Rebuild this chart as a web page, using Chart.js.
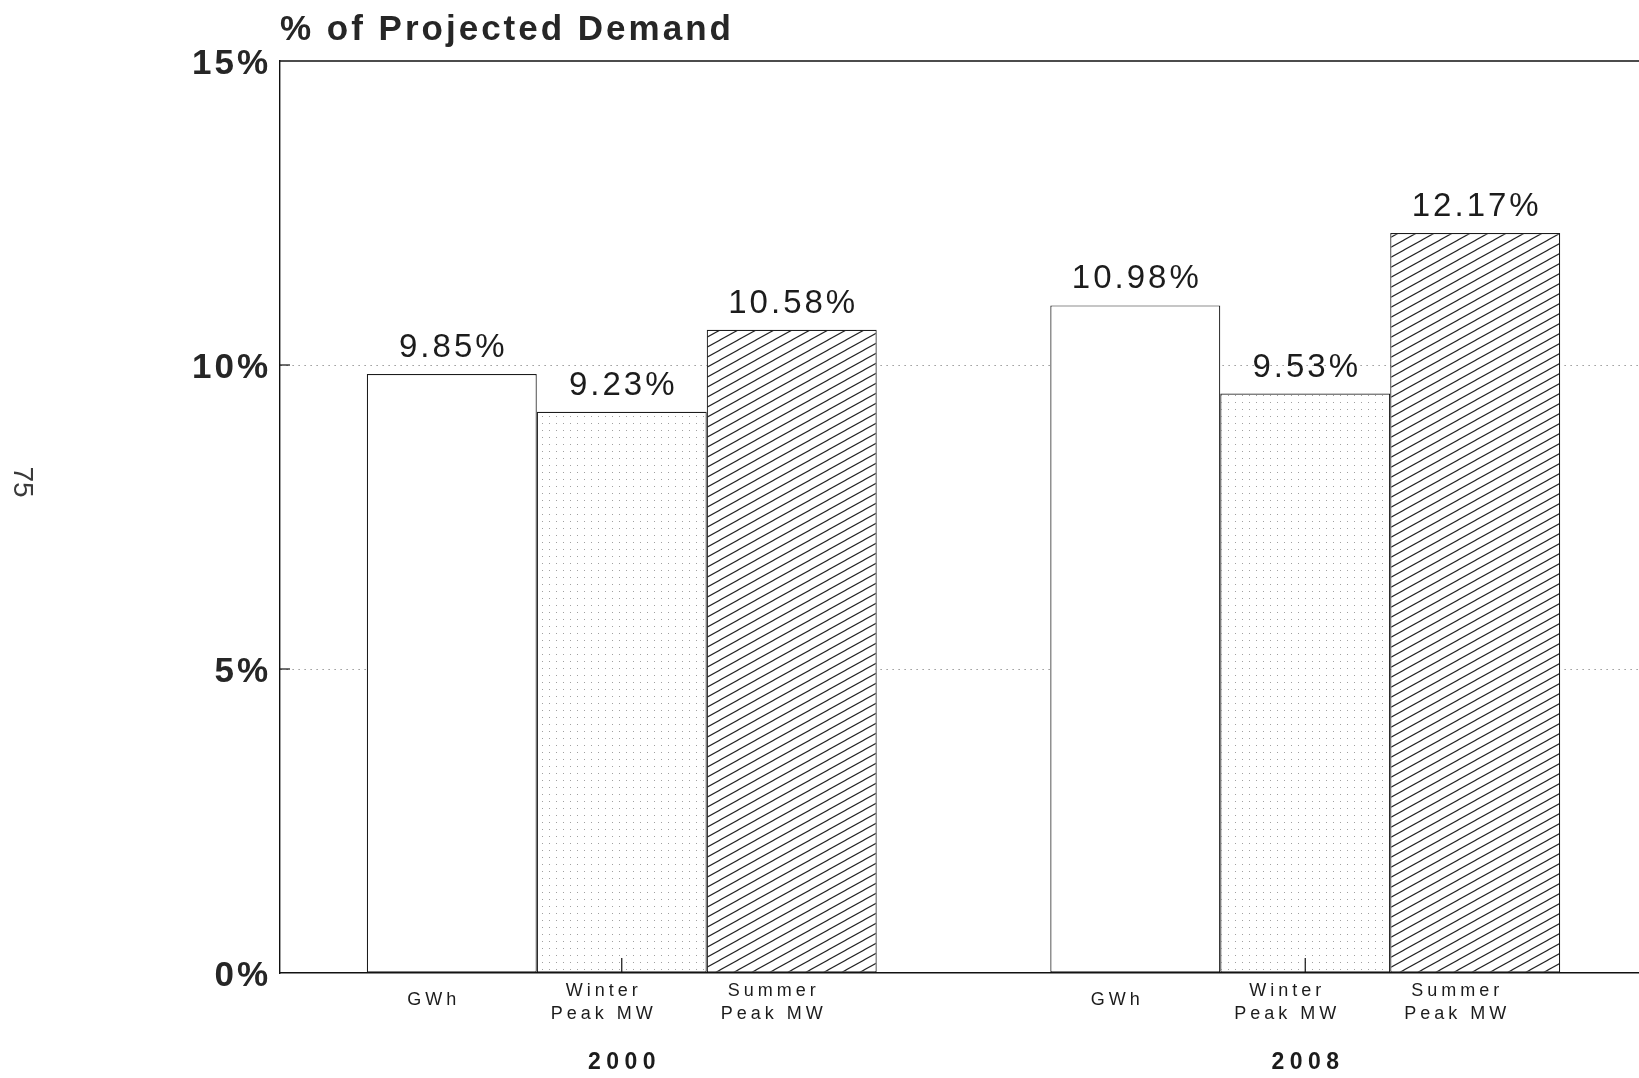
<!DOCTYPE html>
<html>
<head>
<meta charset="utf-8">
<title>% of Projected Demand</title>
<script src="https://cdn.jsdelivr.net/npm/chart.js@4.4.1/dist/chart.umd.min.js"></script>
<style>
  html, body { margin: 0; padding: 0; background: #fff; overflow: hidden; }
  #wrap { width: 1660px; height: 1078px; }
</style>
</head>
<body>
<div id="wrap"><canvas id="demandChart" width="1660" height="1078"></canvas></div>
<script>
//--- Dados
var years = ['2000', '2008'];
var seriesNames = ['GWh', 'Winter Peak MW', 'Summer Peak MW'];
var subLabels = [['GWh'], ['Winter', 'Peak MW'], ['Summer', 'Peak MW']];
var gwh = [9.85, 10.98];
var winterPeak = [9.23, 9.53];
var summerPeak = [10.58, 12.17];
var yTicks = [0, 5, 10, 15];
var titleText = '% of Projected Demand';
var pageNumber = '75';

var FONT = '"Liberation Sans", Arial, Helvetica, sans-serif';
var INK = '#1c1c1c';

// pontilhado fino para o Winter Peak
function dotPattern() {
    var c = document.createElement('canvas');
    c.width = 7;
    c.height = 7;
    var g = c.getContext('2d');
    g.fillStyle = '#fff';
    g.fillRect(0, 0, 7, 7);
    g.fillStyle = '#a0a0a0';
    g.fillRect(3, 3, 1, 1);
    return g.createPattern(c, 'repeat');
}

// tracejado diagonal para o Summer Peak
function hatchPattern() {
    var w = 18, h = 10;
    var c = document.createElement('canvas');
    c.width = w;
    c.height = h;
    var g = c.getContext('2d');
    g.fillStyle = '#fff';
    g.fillRect(0, 0, w, h);
    g.strokeStyle = '#222';
    g.lineWidth = 1.1;
    for (var k = -1; k <= 1; k++) {
        g.beginPath();
        g.moveTo(-w, 2 * h + k * h);
        g.lineTo(2 * w, -h + k * h);
        g.stroke();
    }
    return g.createPattern(c, 'repeat');
}

function drawSpaced(ctx, text, x, y, spacing) {
    ctx.letterSpacing = spacing + 'px';
    ctx.fillText(text, x + spacing / 2, y);
    ctx.letterSpacing = '0px';
}

// textos, moldura e marcas extra
var decorations = {
    id: 'decorations',
    afterDatasetsDraw: function (chart) {
        var ctx = chart.ctx;
        var values = [gwh, winterPeak, summerPeak];
        ctx.save();
        ctx.fillStyle = INK;
        ctx.textAlign = 'center';
        ctx.textBaseline = 'alphabetic';
        ctx.font = '33px ' + FONT;
        for (var i = 0; i < values.length; i++) {
            var meta = chart.getDatasetMeta(i);
            for (var j = 0; j < values[i].length; j++) {
                var bar = meta.data[j];
                drawSpaced(ctx, values[i][j].toFixed(2) + '%', bar.x, bar.y - 17, 3);
            }
        }
        ctx.restore();
    },
    afterDraw: function (chart) {
        var ctx = chart.ctx;
        var area = chart.chartArea;
        var xScale = chart.scales.x;
        var yScale = chart.scales.y;
        ctx.save();

        // linha de topo da moldura
        ctx.strokeStyle = '#111';
        ctx.lineWidth = 1.4;
        ctx.beginPath();
        ctx.moveTo(area.left, area.top);
        ctx.lineTo(area.right, area.top);
        ctx.stroke();

        // marcas internas
        ctx.lineWidth = 1.2;
        [5, 10].forEach(function (v) {
            var y = yScale.getPixelForValue(v);
            ctx.beginPath();
            ctx.moveTo(area.left, y);
            ctx.lineTo(area.left + 10, y);
            ctx.stroke();
        });
        years.forEach(function (yr, j) {
            var x = xScale.getPixelForValue(j);
            ctx.beginPath();
            ctx.moveTo(x, area.bottom);
            ctx.lineTo(x, area.bottom - 15);
            ctx.stroke();
        });

        // rotulos do eixo y (com espacamento entre letras)
        ctx.fillStyle = '#262626';
        ctx.textAlign = 'right';
        ctx.textBaseline = 'middle';
        ctx.font = 'bold 35px ' + FONT;
        ctx.letterSpacing = '3px';
        yTicks.forEach(function (v) {
            ctx.fillText(v + '%', area.left - 9, yScale.getPixelForValue(v) + 3);
        });
        ctx.letterSpacing = '0px';

        ctx.fillStyle = INK;
        ctx.textAlign = 'center';
        ctx.textBaseline = 'middle';

        // legendas por barra
        ctx.font = '18px ' + FONT;
        for (var i = 0; i < subLabels.length; i++) {
            var meta = chart.getDatasetMeta(i);
            for (var j = 0; j < years.length; j++) {
                var bx = meta.data[j].x - 20;
                var lines = subLabels[i];
                if (lines.length === 1) {
                    drawSpaced(ctx, lines[0], bx, area.bottom + 27, 4);
                } else {
                    drawSpaced(ctx, lines[0], bx, area.bottom + 18, 4);
                    drawSpaced(ctx, lines[1], bx, area.bottom + 41, 4);
                }
            }
        }

        // anos
        ctx.font = 'bold 23px ' + FONT;
        years.forEach(function (yr, j) {
            drawSpaced(ctx, yr, xScale.getPixelForValue(j), area.bottom + 90, 5.5);
        });

        // titulo
        ctx.textAlign = 'left';
        ctx.textBaseline = 'alphabetic';
        ctx.font = 'bold 35px ' + FONT;
        ctx.fillStyle = '#262626';
        ctx.letterSpacing = '3px';
        ctx.fillText(titleText, area.left, 40);
        ctx.letterSpacing = '0px';

        // numero da pagina, rodado
        ctx.translate(22, 482);
        ctx.rotate(Math.PI / 2);
        ctx.textAlign = 'center';
        ctx.textBaseline = 'middle';
        ctx.font = '28px ' + FONT;
        ctx.fillStyle = '#3a3a3a';
        ctx.fillText(pageNumber, 0, 0);

        ctx.restore();
    }
};

var ctx = document.getElementById('demandChart').getContext('2d');
var demandChart = new Chart(ctx, {
    type: 'bar',
    data: {
        labels: years,
        datasets: [
            {
                label: seriesNames[0],
                data: gwh,
                backgroundColor: '#fff',
                borderColor: INK,
                borderWidth: 1.2,
                borderSkipped: false
            },
            {
                label: seriesNames[1],
                data: winterPeak,
                backgroundColor: dotPattern(),
                borderColor: INK,
                borderWidth: 1.2,
                borderSkipped: false
            },
            {
                label: seriesNames[2],
                data: summerPeak,
                backgroundColor: hatchPattern(),
                borderColor: INK,
                borderWidth: 1.2,
                borderSkipped: false
            }
        ]
    },
    options: {
        responsive: false,
        animation: false,
        datasets: {
            bar: { categoryPercentage: 0.746, barPercentage: 1.0 }
        },
        layout: { padding: { top: 61, right: 13, left: 0, bottom: 0 } },
        plugins: {
            legend: { display: false },
            tooltip: { enabled: false }
        },
        scales: {
            x: {
                grid: { display: false },
                border: { display: true, color: '#111', width: 1.6 },
                ticks: { display: false },
                afterFit: function (scale) { scale.height = 105; }
            },
            y: {
                min: 0,
                max: 15,
                afterBuildTicks: function (scale) {
                    scale.ticks = yTicks.map(function (v) { return { value: v }; });
                },
                // os rotulos sao desenhados no plugin
                ticks: { display: false },
                grid: {
                    drawTicks: false,
                    lineWidth: 1,
                    color: function (c) {
                        var v = c.tick ? c.tick.value : 0;
                        return (v === 0 || v === 15) ? 'rgba(0,0,0,0)' : '#9a9a9a';
                    }
                },
                border: { display: true, color: '#111', width: 1.4, dash: [1.5, 4.5] },
                afterFit: function (scale) { scale.width = 280; }
            }
        }
    },
    plugins: [decorations]
});
</script>
</body>
</html>
